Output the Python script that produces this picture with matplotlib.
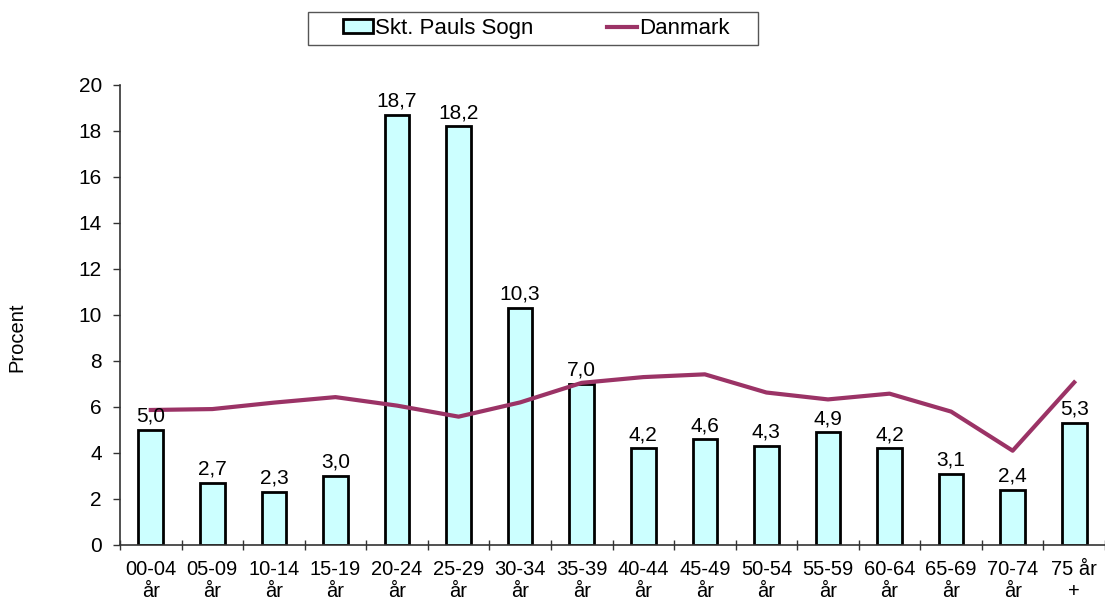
import matplotlib
matplotlib.use("Agg")
import matplotlib.pyplot as plt
from matplotlib.patches import Rectangle
import numpy as np

plt.rcParams['font.family'] = ['Liberation Sans', 'DejaVu Sans']

categories = ["00-04\når", "05-09\når", "10-14\når", "15-19\når", "20-24\når", "25-29\når",
              "30-34\når", "35-39\når", "40-44\når", "45-49\når", "50-54\når", "55-59\når",
              "60-64\når", "65-69\når", "70-74\når", "75 år\n+"]
sogn = [5.0, 2.7, 2.3, 3.0, 18.7, 18.2, 10.3, 7.0, 4.2, 4.6, 4.3, 4.9, 4.2, 3.1, 2.4, 5.3]
danmark = [5.87, 5.91, 6.19, 6.43, 6.06, 5.58, 6.2, 7.05, 7.3, 7.42, 6.63, 6.33, 6.58, 5.8, 4.1, 7.07]
yticks = [0, 2, 4, 6, 8, 10, 12, 14, 16, 18, 20]

FS = 14.5
W, H = 1105, 603
fig = plt.figure(figsize=(W / 100, H / 100), dpi=100)
ax = fig.add_axes([120 / W, 1 - 545 / H, 1 - 120 / W, (545 - 85) / H])

x = np.arange(len(categories))
bars = ax.bar(x, sogn, width=0.4, color='#CCFFFF', edgecolor='black', linewidth=2,
              label='Skt. Pauls Sogn', zorder=2)
line, = ax.plot(x, danmark, color='#9B3366', linewidth=3.0, label='Danmark', zorder=3)

for xi, v in zip(x, sogn):
    ax.annotate(f"{v:.1f}".replace('.', ','), (xi, v), xytext=(0, 3),
                textcoords='offset points', ha='center', va='bottom', fontsize=15, zorder=4)

ax.set_xlim(-0.5, len(categories) - 0.5)
ax.set_ylim(0, 20)
ax.set_yticks(yticks)
ax.set_yticklabels([str(t) for t in yticks], fontsize=15)
ax.set_xticks(x)
ax.set_xticklabels(categories, fontsize=FS, linespacing=1.15)
ax.set_xticks(np.arange(len(categories) + 1) - 0.5, minor=True)
ax.tick_params(axis='x', which='major', length=0, pad=11)
ax.tick_params(axis='x', which='minor', length=7, direction='inout', width=1, color='#333333')
ax.tick_params(axis='y', length=5, direction='out', width=1, color='#333333', pad=8)
for s in ['top', 'right']:
    ax.spines[s].set_visible(False)
for s in ['left', 'bottom']:
    ax.spines[s].set_color('#333333')
    ax.spines[s].set_linewidth(1.2)

ax.set_ylabel('Procent', fontsize=FS)
ax.yaxis.set_label_coords(-(120 - 26) / (W - 120), (545 - 337) / 460)

# legend frame
fig.patches.append(Rectangle((308 / W, 1 - 45 / H), 450 / W, 33 / H, transform=fig.transFigure,
                             facecolor='white', edgecolor='#555555', linewidth=1.0, zorder=0))
leg = fig.legend(handles=[bars, line], labels=['Skt. Pauls Sogn', 'Danmark'],
                 loc='center left', bbox_to_anchor=(343 / W, 1 - 28.5 / H), ncol=2,
                 frameon=False, fontsize=16, borderaxespad=0,
                 handlelength=1.35, handleheight=0.55, handletextpad=0.1, columnspacing=3.3,
                 borderpad=0)

fig.savefig('out.png', dpi=100)
